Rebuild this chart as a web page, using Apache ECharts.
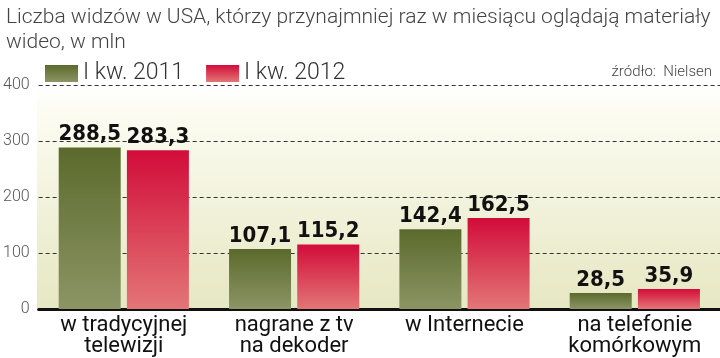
<!DOCTYPE html>
<html><head><meta charset="utf-8">
<script src="https://cdn.jsdelivr.net/npm/echarts@6/dist/echarts.min.js"></script>
<style>html,body{margin:0;padding:0;background:#fff;}#c{width:720px;height:358px;}</style>
</head><body><div id="c"></div>
<script>
const categories = ['w tradycyjnej\ntelewizji', 'nagrane z tv\nna dekoder', 'w Internecie', 'na telefonie\nkomórkowym'];
const series2011 = [288.5, 107.1, 142.4, 28.5];
const series2012 = [283.3, 115.2, 162.5, 35.9];
const seriesNames = ['I kw. 2011', 'I kw. 2012'];
const yTicks = [0, 100, 200, 300, 400];

const chart = echarts.init(document.getElementById('c'));
const fmt = p => String(p.value).replace('.', ',');
const labelStyle = {show: true, position: 'top', distance: 2, formatter: fmt, color: '#111',
  fontFamily: 'DejaVu Sans Condensed, sans-serif', fontWeight: 'bold', fontSize: 22};
chart.setOption({
  animation: false,
  title: {text: 'Liczba widzów w USA, którzy przynajmniej raz w miesiącu oglądają materiały\nwideo, w mln',
    left: 1, top: 0, textStyle: {fontFamily: 'Roboto', fontWeight: 300, fontSize: 21, color: '#444', lineHeight: 25}},
  legend: {left: 40, top: 57, itemWidth: 33, itemHeight: 17, itemGap: 22, icon: 'rect',
    textStyle: {fontFamily: 'Roboto', fontWeight: 300, fontSize: 23, color: '#333'},
    data: seriesNames},
  graphic: [
    {type: 'rect', left: 37, top: 85, z: -10, shape: {width: 683, height: 224},
      style: {fill: new echarts.graphic.LinearGradient(0, 0, 0, 1, [{offset: 0, color: '#ffffff'}, {offset: 0.15, color: '#fbfbf0'}, {offset: 1, color: '#e6e7c2'}])}},
    {type: 'text', right: 8, top: 65, style: {text: 'źródło:  Nielsen', font: '300 15px Roboto', fill: '#444'}}
  ],
  grid: {left: 37, right: 0, top: 85, bottom: 49},
  xAxis: {type: 'category', data: categories,
    axisLine: {lineStyle: {color: '#111', width: 3}}, axisTick: {show: false},
    axisLabel: {interval: 0, hideOverlap: false, fontFamily: 'Roboto', fontSize: 22, color: '#111', lineHeight: 21, margin: 6}},
  yAxis: {type: 'value', min: 0, max: 400, interval: 100,
    axisLine: {show: false}, axisTick: {show: false},
    axisLabel: {fontFamily: 'Roboto', fontWeight: 300, fontSize: 16, color: '#555', margin: 9,
      formatter: v => yTicks.includes(v) ? String(v) : ''},
    splitLine: {lineStyle: {color: '#333', type: [4, 3], width: 1}}},
  series: [
    {name: seriesNames[0], type: 'bar', data: series2011, barWidth: 62, barGap: '10%', label: labelStyle,
      itemStyle: {color: new echarts.graphic.LinearGradient(0, 0, 0, 1, [{offset: 0, color: '#5b6a2c'}, {offset: 1, color: '#8c9565'}])}},
    {name: seriesNames[1], type: 'bar', data: series2012, barWidth: 62, label: labelStyle,
      itemStyle: {color: new echarts.graphic.LinearGradient(0, 0, 0, 1, [{offset: 0, color: '#d20c3a'}, {offset: 1, color: '#e37676'}])}}
  ]
});
</script></body></html>
